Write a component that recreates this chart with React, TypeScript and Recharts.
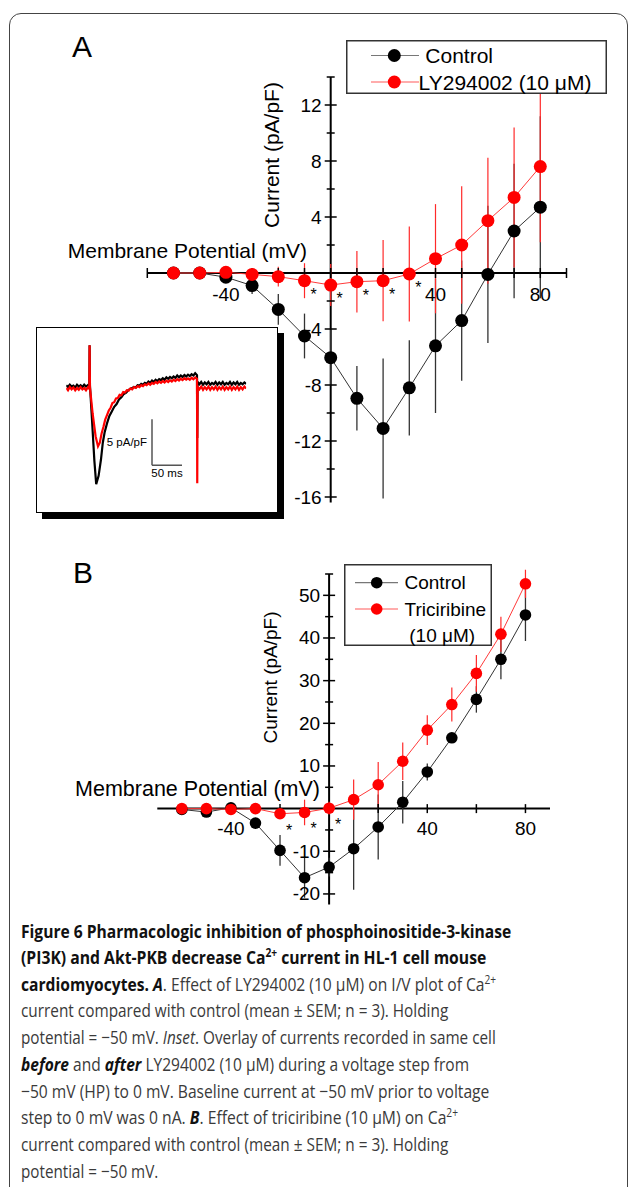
import React from 'react';
import {
  ComposedChart,
  LineChart,
  Line,
  XAxis,
  YAxis,
  ErrorBar,
  ReferenceLine,
  ReferenceDot,
  Legend,
  LabelList,
} from 'recharts';

const FONT = '"Liberation Sans", Arial, Helvetica, sans-serif';
const CAPTION_FONT = '"Open Sans", "Noto Sans", sans-serif';

// membrane potential steps (mV)
const voltage = [-60, -50, -40, -30, -20, -10, 0, 10, 20, 30, 40, 50, 60, 70, 80];

// panel A: control vs LY294002, current density (pA/pF) and SEM
const ctrlA = [0, 0, -0.3, -0.9, -2.6, -4.5, -6.05, -8.95, -11.1, -8.2, -5.2, -3.4, -0.1, 3.0, 4.7];
const ctrlSemA = [0.1, 0.1, 0.3, 0.6, 1.1, 1.6, 2.0, 2.3, 5.0, 3.4, 4.8, 4.3, 4.9, 4.8, 6.5];
const lyA = [0, 0, 0.05, -0.1, -0.26, -0.55, -0.86, -0.62, -0.55, -0.07, 1.02, 2.0, 3.74, 5.4, 7.6];
const lySemA = [0.1, 0.1, 0.2, 0.3, 0.7, 1.25, 1.5, 2.2, 2.9, 3.4, 3.9, 4.2, 4.5, 5.0, 5.4];
const sigA = ['', '', '', '', '', '*', '*', '*', '*', '*', '', '', '', '', ''];

// panel B: control vs triciribine
const ctrlB = [-0.2, -0.8, 0.2, -3.4, -9.8, -16.2, -13.7, -9.4, -4.3, 1.5, 8.6, 16.6, 25.6, 35.0, 45.4];
const ctrlSemB = [0.3, 0.3, 0.3, 0.8, 3.6, 4.7, 2.2, 9.6, 7.6, 5.0, 2.0, 1.0, 3.1, 4.7, 6.1];
const triB = [0, 0, -0.2, 0, -1.2, -0.9, 0.1, 2.1, 5.6, 11.1, 18.4, 24.4, 31.7, 40.9, 52.7];
const triSemB = [0.2, 0.2, 0.2, 0.3, 0.8, 3.0, 1.5, 4.7, 5.3, 4.4, 3.5, 4.0, 4.3, 4.1, 3.3];
const sigB = ['', '', '', '', '*', '*', '*', '', '', '', '', '', '', '', ''];

// axis ticks
const xTicksA = [-70, -60, -50, -40, -30, -20, -10, 0, 10, 20, 30, 40, 50, 60, 70, 80, 90];
const xTicksB = [-60, -40, -20, 0, 20, 40, 60, 80];
const xLabels = [-40, 40, 80];
const yTicksA = [-16, -14, -12, -10, -8, -6, -4, -2, 2, 4, 6, 8, 10, 12, 14];
const yLabelsA = [-16, -12, -8, -4, 4, 8, 12];
const yTicksB = [-20, -15, -10, -5, 5, 10, 15, 20, 25, 30, 35, 40, 45, 50, 55];
const yLabelsB = [-20, -10, 10, 20, 30, 40, 50];

// inset: [time ms, current pA/pF], step to 0 mV at ~39 ms, back at ~218 ms
const ctrlTrace = [
  [0, 0.25], [3, 0.05], [6, 0.3], [9, 0.1], [12, 0.2], [15, 0], [18, 0.3], [21, 0.1], [24, 0.25], [27, 0.05], [30, 0.3],
  [33, 0.1], [36, 0.25], [38.5, 0.1],
  [39, 4.6], [39.6, 0.2], [43, -3.5], [47, -8], [50, -10.5], [54, -9.6], [58, -7.8], [61, -6], [64, -4.9], [68, -3.9],
  [72, -3.1], [76, -2.6], [80, -2.1], [84, -1.8], [88, -1.3], [92, -1.05], [96, -0.7], [100, -0.55], [104, -0.25], [107, -0.15],
  [110, -0.05], [113, 0.05], [116, 0.0], [119, 0.25], [122, 0.2], [125, 0.4], [128, 0.3], [131, 0.5], [134, 0.4], [137, 0.65],
  [140, 0.5], [143, 0.75], [146, 0.6], [149, 0.85], [152, 0.7], [155, 0.9], [158, 0.8], [161, 1.0], [164, 0.85], [167, 1.1],
  [170, 0.95], [173, 1.15], [176, 1.0], [179, 1.2], [182, 1.05], [185, 1.3], [188, 1.1], [191, 1.3], [194, 1.15], [197, 1.35],
  [200, 1.2], [203, 1.4], [206, 1.25], [209, 1.45], [212, 1.3], [215, 1.55], [218, 1.35],
  [218.4, -5.5], [219, 0.6], [222, 0.35], [225, 0.6], [228, 0.3], [231, 0.55], [234, 0.35], [237, 0.6], [240, 0.3],
  [243, 0.5], [246, 0.35], [249, 0.6], [252, 0.3], [255, 0.55], [258, 0.35], [261, 0.6], [264, 0.3], [267, 0.5], [270, 0.35],
  [273, 0.6], [276, 0.3], [279, 0.55], [282, 0.35], [285, 0.6], [288, 0.3], [291, 0.5], [294, 0.35], [297, 0.55], [300, 0.4],
];
const lyTrace = [
  [0, -0.05], [3, -0.3], [6, 0.05], [9, -0.2], [12, 0], [15, -0.3], [18, -0.05], [21, -0.25], [24, 0.05], [27, -0.2],
  [30, -0.05], [33, -0.3], [36, 0], [38.5, -0.15],
  [39, 4.6], [39.6, 0], [44, -2.8], [49, -5.3], [53, -6.4], [56, -6], [59, -5], [62, -4.3], [65, -3.5], [68, -3.0], [71, -2.5],
  [74, -2.2], [77, -1.7], [80, -1.6], [83, -1.2], [86, -1.15], [89, -0.8], [92, -0.85], [95, -0.5], [98, -0.55], [101, -0.3],
  [104, -0.35], [107, -0.1], [110, -0.2], [113, 0.05], [116, -0.05], [119, 0.15], [122, 0.05], [125, 0.25], [128, 0.15],
  [131, 0.35], [134, 0.25], [137, 0.45], [140, 0.3], [143, 0.5], [146, 0.4], [149, 0.6], [152, 0.45], [155, 0.65], [158, 0.5],
  [161, 0.7], [164, 0.55], [167, 0.75], [170, 0.6], [173, 0.8], [176, 0.65], [179, 0.85], [182, 0.7], [185, 0.9], [188, 0.75],
  [191, 0.95], [194, 0.8], [197, 1.0], [200, 0.85], [203, 1.0], [206, 0.85], [209, 1.05], [212, 0.9], [215, 1.1], [218, 0.95],
  [218.4, -10.4], [219, 0.1], [222, -0.2], [225, 0.1], [228, -0.25], [231, 0.05], [234, -0.2], [237, 0.1], [240, -0.25],
  [243, 0.05], [246, -0.2], [249, 0.1], [252, -0.25], [255, 0.05], [258, -0.2], [261, 0.1], [264, -0.25], [267, 0.05],
  [270, -0.2], [273, 0.1], [276, -0.25], [279, 0.05], [282, -0.2], [285, 0.1], [288, -0.25], [291, 0.05], [294, -0.2],
  [297, 0.1], [300, -0.1],
];
// scale bar origin (ms, pA/pF) and lengths
const barStart = [143, -8.45];
const barMs = 50;
const barAmp = 5;

const rowsA = voltage.map((v, i) => ({ v, ctrl: ctrlA[i], ctrlErr: ctrlSemA[i], drug: lyA[i], drugErr: lySemA[i], sig: sigA[i] }));
const rowsB = voltage.map((v, i) => ({ v, ctrl: ctrlB[i], ctrlErr: ctrlSemB[i], drug: triB[i], drugErr: triSemB[i], sig: sigB[i] }));
const ctrlTraceRows = ctrlTrace.map(([t, i]) => ({ t, i }));
const lyTraceRows = lyTrace.map(([t, i]) => ({ t, i }));

const xTick = (t: number, len: number, dy: number, size: number) => (p: any) => (
  <g>
    <line x1={p.cx} x2={p.cx} y1={p.cy - len} y2={p.cy + len} stroke="#000" strokeWidth={1.5} />
    {xLabels.includes(t) && (
      <text x={p.cx} y={p.cy + dy} textAnchor="middle" dominantBaseline="central" fontSize={size} fontFamily={FONT} fill="#000">
        {t}
      </text>
    )}
  </g>
);

const yTick = (t: number, labels: number[], size: number, gap: number) => (p: any) => {
  const major = labels.includes(t);
  const len = major ? 6 : 4;
  return (
    <g>
      <line x1={p.cx - len} x2={p.cx + len} y1={p.cy} y2={p.cy} stroke="#000" strokeWidth={1.5} />
      {major && (
        <text x={p.cx - gap} y={p.cy} textAnchor="end" dominantBaseline="central" fontSize={size} fontFamily={FONT} fill="#000">
          {t}
        </text>
      )}
    </g>
  );
};

const star = (dx: number, dy: number) => (p: any) =>
  p.value ? (
    <text x={p.x + dx} y={p.y + dy} textAnchor="middle" fontSize={16} fontFamily={FONT} fill="#000">
      {p.value}
    </text>
  ) : null;

const LegendA = ({ payload }: any) => (
  <svg width={261} height={54} style={{ display: 'block' }}>
    <rect x={0.75} y={0.75} width={259.5} height={52.5} fill="#fff" stroke="#333" strokeWidth={1.5} />
    {(payload || []).map((e: any, i: number) => {
      const y = i === 0 ? 15.5 : 42;
      return (
        <g key={i}>
          <line x1={25} x2={73} y1={y} y2={y} stroke={i === 0 ? '#777' : '#ff5a5a'} strokeWidth={1.2} />
          <circle cx={48.3} cy={y} r={6.5} fill={i === 0 ? '#000' : '#ff0000'} />
          <text x={i === 0 ? 79.3 : 72.6} y={y} dominantBaseline="central" fontSize={21} fontFamily={FONT} fill="#000">
            {e.value}
          </text>
        </g>
      );
    })}
  </svg>
);

const LegendB = ({ payload }: any) => (
  <svg width={148} height={82} style={{ display: 'block' }}>
    <rect x={0.75} y={0.75} width={146.5} height={80.5} fill="#fff" stroke="#333" strokeWidth={1.5} />
    {(payload || []).map((e: any, i: number) => {
      const y = i === 0 ? 18.7 : 45;
      const parts = String(e.value).split(' (');
      return (
        <g key={i}>
          <line x1={11} x2={54} y1={y} y2={y} stroke={i === 0 ? '#777' : '#ff5a5a'} strokeWidth={1.2} />
          <circle cx={32.7} cy={y} r={5.8} fill={i === 0 ? '#000' : '#ff0000'} />
          <text x={60.5} y={y} dominantBaseline="central" fontSize={19} fontFamily={FONT} fill="#000">
            {parts[0]}
          </text>
          {parts[1] && (
            <text x={65.3} y={y + 26} dominantBaseline="central" fontSize={19} fontFamily={FONT} fill="#000">
              {'(' + parts[1]}
            </text>
          )}
        </g>
      );
    })}
  </svg>
);

const IVPanel = ({ rows, yDomain, xTicks, yTicks, yLabels, dotR, legend, legendPos, names, margin, width, height, tickLen, labelDy, starDy }: any) => (
  <ComposedChart width={width} height={height} data={rows} margin={margin}>
    <XAxis type="number" dataKey="v" domain={[-70, 90]} hide allowDataOverflow />
    <YAxis type="number" domain={yDomain} hide allowDataOverflow />
    <ReferenceLine y={0} stroke="#000" strokeWidth={2} />
    <ReferenceLine x={0} stroke="#000" strokeWidth={2} />
    {xTicks.map((t: number) => (
      <ReferenceDot key={'x' + t} x={t} y={0} r={0} ifOverflow="visible" shape={xTick(t, tickLen, labelDy, 19)} />
    ))}
    {yTicks.map((t: number) => (
      <ReferenceDot key={'y' + t} x={0} y={t} r={0} ifOverflow="visible" shape={yTick(t, yLabels, 19, 9)} />
    ))}
    <Line
      type="linear"
      dataKey="ctrl"
      name={names[0]}
      stroke="#333"
      strokeWidth={1}
      dot={{ r: dotR, fill: '#000', stroke: '#000', strokeWidth: 0 }}
      activeDot={false}
      isAnimationActive={false}
    >
      <ErrorBar dataKey="ctrlErr" direction="y" width={0} stroke="#333" strokeWidth={1.3} />
    </Line>
    <Line
      type="linear"
      dataKey="drug"
      name={names[1]}
      stroke="#ff3a3a"
      strokeWidth={1}
      dot={{ r: dotR, fill: '#ff0000', stroke: '#ff0000', strokeWidth: 0 }}
      activeDot={false}
      isAnimationActive={false}
    >
      <ErrorBar dataKey="drugErr" direction="y" width={0} stroke="#ff2a2a" strokeWidth={1.2} />
      <LabelList dataKey="sig" content={star(9, starDy)} />
    </Line>
    <Legend layout="vertical" align="center" verticalAlign="middle" wrapperStyle={legendPos} content={legend} />
  </ComposedChart>
);

// one caption line, squeezed horizontally to the width it has in the figure
const CaptionLine = ({ y, width, children }: any) => {
  const ref = React.useRef<SVGTextElement>(null);
  const [sx, setSx] = React.useState(1);
  React.useLayoutEffect(() => {
    if (ref.current) {
      const w = ref.current.getComputedTextLength();
      if (w > 0) setSx(width / w);
    }
  }, [width]);
  return (
    <text ref={ref} x={0} y={0} transform={`translate(21 ${y}) scale(${sx} 1)`} fontSize={18.5} fontFamily={CAPTION_FONT} fill="#3a3a3a">
      {children}
    </text>
  );
};

const Caption = () => {
  const b = { fontWeight: 700, fill: '#111' };
  const bi = { fontWeight: 700, fontStyle: 'italic', fill: '#111' };
  return (
    <g>
      <CaptionLine y={937.5} width={490.7}>
        <tspan {...b}>Figure 6 Pharmacologic inhibition of phosphoinositide-3-kinase</tspan>
      </CaptionLine>
      <CaptionLine y={964} width={465.7}>
        <tspan {...b}>(PI3K) and Akt-PKB decrease Ca</tspan>
        <tspan {...b} fontSize={12} dy={-7}>2+</tspan>
        <tspan {...b} dy={7}> current in HL-1 cell mouse</tspan>
      </CaptionLine>
      <CaptionLine y={990.7} width={475.7}>
        <tspan {...b}>cardiomyocytes. </tspan>
        <tspan {...bi}>A</tspan>
        <tspan>. Effect of LY294002 (10 μM) on I/V plot of Ca</tspan>
        <tspan fontSize={12} dy={-7}>2+</tspan>
      </CaptionLine>
      <CaptionLine y={1017.4} width={427.3}>
        current compared with control (mean ± SEM; n = 3). Holding
      </CaptionLine>
      <CaptionLine y={1044.1} width={475}>
        <tspan>potential = −50 mV. </tspan>
        <tspan fontStyle="italic">Inset</tspan>
        <tspan>. Overlay of currents recorded in same cell</tspan>
      </CaptionLine>
      <CaptionLine y={1070.8} width={448.3}>
        <tspan {...bi}>before</tspan>
        <tspan> and </tspan>
        <tspan {...bi}>after</tspan>
        <tspan> LY294002 (10 μM) during a voltage step from</tspan>
      </CaptionLine>
      <CaptionLine y={1097.5} width={469}>
        −50 mV (HP) to 0 mV. Baseline current at −50 mV prior to voltage
      </CaptionLine>
      <CaptionLine y={1124.2} width={437.3}>
        <tspan>step to 0 mV was 0 nA. </tspan>
        <tspan {...bi}>B</tspan>
        <tspan>. Effect of triciribine (10 μM) on Ca</tspan>
        <tspan fontSize={12} dy={-7}>2+</tspan>
      </CaptionLine>
      <CaptionLine y={1150.9} width={427.3}>
        current compared with control (mean ± SEM; n = 3). Holding
      </CaptionLine>
      <CaptionLine y={1177.6} width={137.3}>
        potential = −50 mV.
      </CaptionLine>
    </g>
  );
};

export default function App() {
  return (
    <div style={{ position: 'absolute', left: 0, top: 0, width: 629, height: 1187, overflow: 'hidden', background: '#fff', fontFamily: FONT }}>
      <div
        style={{
          position: 'absolute', left: 8.5, top: 12.5, width: 619, height: 1230,
          border: '1.5px solid #444', borderRadius: 12, boxSizing: 'border-box',
        }}
      />

      <div style={{ position: 'absolute', left: 0, top: 0 }}>
        <IVPanel
          rows={rowsA}
          width={629}
          height={520}
          margin={{ top: 77, right: 62.5, bottom: 17.4, left: 147.3 }}
          yDomain={[-16.4, 14]}
          xTicks={xTicksA}
          yTicks={yTicksA}
          yLabels={yLabelsA}
          dotR={6.5}
          tickLen={5}
          labelDy={21}
          starDy={19}
          names={['Control', 'LY294002 (10 μM)']}
          legend={LegendA}
          legendPos={{ left: 346, top: 39.5, width: 261, height: 54 }}
        />
      </div>

      <div
        style={{
          position: 'absolute', left: 36, top: 327, width: 242, height: 186, background: '#fff',
          border: '1.5px solid #000', boxShadow: '6px 6px 0 #000', boxSizing: 'border-box',
        }}
      >
        <LineChart width={239} height={183} margin={{ top: 4.3, right: 29.8, bottom: 3.9, left: 29.2 }}>
          <XAxis type="number" dataKey="t" domain={[0, 300]} hide allowDataOverflow />
          <YAxis type="number" domain={[-13, 6]} hide allowDataOverflow />
          <Line data={ctrlTraceRows} dataKey="i" type="linear" stroke="#000" strokeWidth={2.2} strokeLinejoin="miter" dot={false} activeDot={false} isAnimationActive={false} />
          <Line data={lyTraceRows} dataKey="i" type="linear" stroke="#ff0000" strokeWidth={2.2} strokeLinejoin="miter" dot={false} activeDot={false} isAnimationActive={false} />
          <ReferenceLine
            segment={[{ x: barStart[0], y: barStart[1] + barAmp }, { x: barStart[0], y: barStart[1] }]}
            stroke="#555"
            strokeWidth={1.5}
            ifOverflow="visible"
            label={{ value: '5 pA/pF', position: 'left', offset: 5, fontSize: 11.5, fill: '#000', fontFamily: FONT }}
          />
          <ReferenceLine
            segment={[{ x: barStart[0], y: barStart[1] }, { x: barStart[0] + barMs, y: barStart[1] }]}
            stroke="#555"
            strokeWidth={1.5}
            ifOverflow="visible"
            label={{ value: '50 ms', position: 'bottom', offset: 4, fontSize: 11.5, fill: '#000', fontFamily: FONT }}
          />
        </LineChart>
      </div>

      <div style={{ position: 'absolute', left: 0, top: 540 }}>
        <IVPanel
          rows={rowsB}
          width={629}
          height={380}
          margin={{ top: 34, right: 79, bottom: 15.4, left: 157.3 }}
          yDomain={[-22.5, 55]}
          xTicks={xTicksB}
          yTicks={yTicksB}
          yLabels={yLabelsB}
          dotR={5.8}
          tickLen={4.5}
          labelDy={20}
          starDy={22}
          names={['Control', 'Triciribine (10 μM)']}
          legend={LegendB}
          legendPos={{ left: 343.5, top: 23.5, width: 148, height: 82 }}
        />
      </div>

      <svg width={629} height={1187} style={{ position: 'absolute', left: 0, top: 0, pointerEvents: 'none' }}>
        <text x={72} y={56.7} fontSize={30} fontFamily={FONT} fill="#000">A</text>
        <text x={73} y={583} fontSize={30} fontFamily={FONT} fill="#000">B</text>
        <text x={307} y={257.5} textAnchor="end" fontSize={21} fontFamily={FONT} fill="#000">Membrane Potential (mV)</text>
        <text transform="translate(279,155) rotate(-90)" textAnchor="middle" fontSize={21} fontFamily={FONT} fill="#000">Current (pA/pF)</text>
        <text x={320} y={795.5} textAnchor="end" fontSize={21.5} fontFamily={FONT} fill="#000">Membrane Potential (mV)</text>
        <text transform="translate(277,677.5) rotate(-90)" textAnchor="middle" fontSize={19} fontFamily={FONT} fill="#000">Current (pA/pF)</text>
        <Caption />
      </svg>
    </div>
  );
}
